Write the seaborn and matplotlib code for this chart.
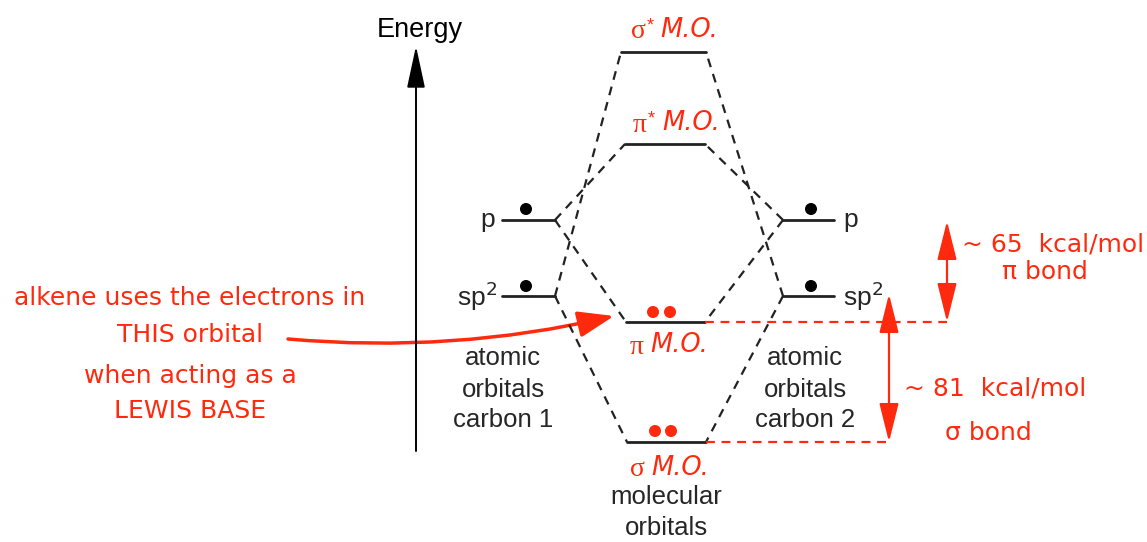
import pandas as pd
import matplotlib
matplotlib.use("Agg")
import matplotlib.pyplot as plt
import seaborn as sns
from matplotlib.patches import FancyArrowPatch

RED = "#ff2a0d"
SANS = "Liberation Sans"
SERIF = "Liberation Serif"
HAND = "DejaVu Sans"

# energy levels (diagram units, y grows downward like the drawing)
level_names = ["sigma*", "pi*", "p1", "p2", "sp2_1", "sp2_2", "pi", "sigma"]
level_left = [621, 625, 502, 783, 502, 783, 626, 627]
level_right = [706, 705, 555, 834, 555, 834, 705, 706]
level_energy = [52, 144, 220, 220, 296, 296, 322, 442]

# correlation lines between atomic and molecular orbitals
link_mo = ["sigma*", "sigma*", "pi*", "pi*", "pi", "pi", "sigma", "sigma"]
link_ao = ["sp2_1", "sp2_2", "p1", "p2", "p1", "p2", "sp2_1", "sp2_2"]

# electrons
electron_x = [526, 811, 526, 811, 653, 670, 655, 671]
electron_y = [209, 209, 286, 286, 312, 312, 431, 431]
electron_kind = ["ao", "ao", "ao", "ao", "mo", "mo", "mo", "mo"]

# bond energy markers
bond_level = ["pi", "sigma"]
bond_top = [221, 294]
bond_x = [947, 889]
bond_labels = ["~ 65  kcal/mol", "~ 81  kcal/mol"]
bond_names = ["\u03c0 bond", "\u03c3 bond"]

mo_greek = ["\u03c3", "\u03c0", "\u03c0", "\u03c3"]
mo_star = ["*", "*", "", ""]
mo_label_levels = ["sigma*", "pi*", "pi", "sigma"]

sns.set_theme(style="white")
plt.rcParams["font.family"] = [SANS, "DejaVu Sans"]

fig = plt.figure(figsize=(11.47, 5.42), dpi=100)
ax = fig.add_axes([0, 0, 1, 1])

lv = pd.DataFrame({"name": level_names, "x0": level_left, "x1": level_right, "y": level_energy}).set_index("name")

# level segments
seg = pd.concat([
    pd.DataFrame({"name": level_names, "x": level_left, "y": level_energy}),
    pd.DataFrame({"name": level_names, "x": level_right, "y": level_energy}),
])
sns.lineplot(data=seg, x="x", y="y", units="name", estimator=None, sort=False,
             color="#222222", lw=2, ax=ax)

# dashed correlation lines
rows = []
for i, (mo, ao) in enumerate(zip(link_mo, link_ao)):
    if lv.loc[ao, "x0"] < 600:
        rows.append((i, lv.loc[ao, "x1"], lv.loc[ao, "y"]))
        rows.append((i, lv.loc[mo, "x0"], lv.loc[mo, "y"]))
    else:
        rows.append((i, lv.loc[ao, "x0"], lv.loc[ao, "y"]))
        rows.append((i, lv.loc[mo, "x1"], lv.loc[mo, "y"]))
links = pd.DataFrame(rows, columns=["link", "x", "y"])
for _, g in links.groupby("link"):
    ax.plot(g["x"], g["y"], color="#222222", lw=1.6, dashes=(4, 3.2))

# red dashed reference lines to bond arrows
for name, bx in zip(bond_level, bond_x):
    ax.plot([lv.loc[name, "x1"], bx], [lv.loc[name, "y"]] * 2, color=RED, lw=1.6, dashes=(4, 3))

# electrons
el = pd.DataFrame({"x": electron_x, "y": electron_y, "kind": electron_kind})
sns.scatterplot(data=el, x="x", y="y", hue="kind", palette={"ao": "black", "mo": RED},
                s=75, edgecolor="none", legend=False, ax=ax)

# bond arrows
for name, top, bx in zip(bond_level, bond_top, bond_x):
    ax.annotate("", xy=(bx, top), xytext=(bx, lv.loc[name, "y"]),
                arrowprops=dict(arrowstyle="<|-|>,head_length=1.2,head_width=0.3",
                                color=RED, lw=1.6, mutation_scale=20, shrinkA=0, shrinkB=0))

# energy axis
ax.annotate("", xy=(416, 46), xytext=(416, 451),
            arrowprops=dict(arrowstyle="-|>,head_length=1.3,head_width=0.28",
                            color="black", lw=1.4, mutation_scale=20, shrinkA=0, shrinkB=0))
ax.text(420, 30, "Energy", fontsize=19.5, ha="center", va="center", color="black")

# MO labels
offsets = [-22, -21, 23, 26]
for g, st, name, dy in zip(mo_greek, mo_star, mo_label_levels, offsets):
    cx = (lv.loc[name, "x0"] + lv.loc[name, "x1"]) / 2
    y = lv.loc[name, "y"] + dy
    gx = cx - 18 if st else cx - 22
    ax.text(gx, y + 2, g, fontsize=20, color=RED, ha="right", va="center", family=SERIF)
    if st:
        ax.text(gx + 1, y - 4, st, fontsize=13, color=RED, ha="left", va="center", family=SANS)
    ax.text(gx + 15 if st else gx + 7, y, "M.O.", fontsize=18.5, color=RED, ha="left",
            va="center", style="italic", family=HAND)

ax.text(666, 497, "molecular", fontsize=18.5, ha="center", va="center")
ax.text(666, 528, "orbitals", fontsize=18.5, ha="center", va="center")

# atomic orbital labels
ax.text(495, 220, "p", fontsize=19, ha="right", va="center")
ax.text(497, 296, "sp$^2$", fontsize=19, ha="right", va="center", math_fontfamily="dejavusans")
ax.text(843, 220, "p", fontsize=19, ha="left", va="center")
ax.text(843, 296, "sp$^2$", fontsize=19, ha="left", va="center", math_fontfamily="dejavusans")
ao_caption = ["atomic", "orbitals"]
caption_y = [358, 390, 420]
for cx, num in [(503, "1"), (805, "2")]:
    for t, y in zip(ao_caption + ["carbon " + num], caption_y):
        ax.text(cx, y, t, fontsize=18.5, ha="center", va="center")

# bond energy labels
ax.text(962, 245, bond_labels[0], fontsize=18, color=RED, ha="left", va="center", family=HAND)
ax.text(1045, 272, bond_names[0], fontsize=18, color=RED, ha="center", va="center", family=HAND)
ax.text(904, 389, bond_labels[1], fontsize=18, color=RED, ha="left", va="center", family=HAND)
ax.text(988, 433, bond_names[1], fontsize=18, color=RED, ha="center", va="center", family=HAND)

# lewis base note
note = ["alkene uses the electrons in", "THIS orbital", "when acting as a", "LEWIS BASE"]
note_y = [298, 335, 376, 411]
for t, y in zip(note, note_y):
    ax.text(190, y, t, fontsize=18, color=RED, ha="center", va="center", family=HAND)
ax.add_patch(FancyArrowPatch((288, 339), (614, 316), connectionstyle="arc3,rad=0.08",
                             arrowstyle="-|>,head_length=1.1,head_width=0.4", mutation_scale=20,
                             color=RED, lw=2.5, shrinkA=0, shrinkB=0))

ax.set_xlim(0, 1147)
ax.set_ylim(542, 0)
ax.axis("off")
fig.savefig("out.png", dpi=100)
